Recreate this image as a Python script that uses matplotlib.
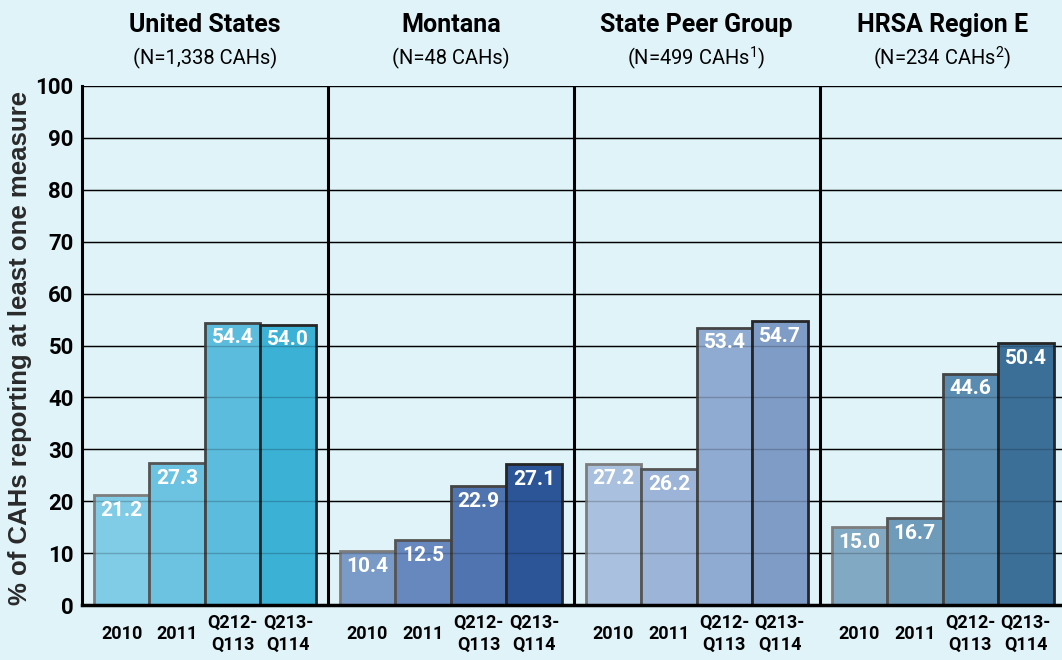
import numpy as np
import matplotlib.pyplot as plt

plt.rcParams['mathtext.fontset'] = 'custom'
plt.rcParams['mathtext.rm'] = 'Roboto'

# --- dados ---
groups = ['United States', 'Montana', 'State Peer Group', 'HRSA Region E']
subtitles = ['(N=1,338 CAHs)', '(N=48 CAHs)', '(N=499 CAHs$^{\\rm 1}$)', '(N=234 CAHs$^{\\rm 2}$)']
periods = ['2010', '2011', 'Q212-\nQ113', 'Q213-\nQ114']

us_vals = [21.2, 27.3, 54.4, 54.0]
mt_vals = [10.4, 12.5, 22.9, 27.1]
peer_vals = [27.2, 26.2, 53.4, 54.7]
hrsa_vals = [15.0, 16.7, 44.6, 50.4]
all_vals = [us_vals, mt_vals, peer_vals, hrsa_vals]

colors = [
    ['#80cbe6', '#6cc3e1', '#5bbcdd', '#3bb1d6'],
    ['#7a9bc8', '#6688bf', '#4f74b0', '#2b5597'],
    ['#a9c1de', '#9cb4d7', '#90abd2', '#7f9cc6'],
    ['#82a9c4', '#6f9bbb', '#5a8bb0', '#3b6f98'],
]
edge_cols = ['#7d7d7d', '#555555', '#444444', '#262626']

bg = '#dff3f9'
cond = ['Roboto', 'DejaVu Sans']

# geometria: largura do painel em unidades de barra
P = 4.43
off = 0.215

fig = plt.figure(figsize=(10.62, 6.6), dpi=100, facecolor=bg)
ax = fig.add_axes([82 / 1062, 55 / 660, 980 / 1062, 519 / 660])
ax.set_facecolor(bg)

# grade atrás das barras
for y in range(10, 101, 10):
    ax.axhline(y, color='black', lw=1, zorder=0)

for g, vals in enumerate(all_vals):
    x = g * P + off + 0.5 + np.arange(4)
    ax.bar(x, vals, width=1.0, color=colors[g], edgecolor=edge_cols,
           linewidth=2, zorder=2)
    for j, (xi, v) in enumerate(zip(x, vals)):
        ax.annotate(f'{v:.1f}', (xi, v), xytext=(0, -4), textcoords='offset points',
                    ha='center', va='top', color='white', fontsize=15,
                    fontweight='bold', family=cond, zorder=4)
        ax.text(xi, -5.6, periods[j], ha='center', va='center', fontsize=13,
                fontweight='bold', family=cond, linespacing=1.3, clip_on=False)
    # títulos dos painéis
    cx = (g + 0.5) * P
    ax.text(cx, 111.8, groups[g], ha='center', va='center', fontsize=18,
            fontweight='bold', family=cond, clip_on=False)
    ax.text(cx, 105.4, subtitles[g], ha='center', va='center', fontsize=14.5,
            family=cond, clip_on=False)
    if g > 0:
        ax.axvline(g * P, color='black', lw=2.2, zorder=3)

# grade por cima das barras, bem suave
for y in range(10, 100, 10):
    ax.axhline(y, color='black', lw=1, alpha=0.2, zorder=3)

ax.set_xlim(0, 980 / 55.5)
ax.set_ylim(0, 100)
ax.set_yticks(range(0, 101, 10))
ax.set_yticklabels([str(t) for t in range(0, 101, 10)], fontsize=16,
                   fontweight='bold', family=cond)
ax.tick_params(axis='y', length=0, pad=6)
ax.set_xticks([])
ax.spines['right'].set_visible(False)
ax.spines['top'].set_visible(False)
ax.spines['left'].set_linewidth(2.2)
ax.spines['bottom'].set_linewidth(2.5)
ax.spines['left'].set_zorder(5)
ax.spines['bottom'].set_zorder(5)

fig.text(20 / 1062, 1 - 348 / 660, '% of CAHs reporting at least one measure',
         rotation=90, ha='center', va='center', fontsize=18.5, fontweight='bold',
         family=['Liberation Sans', 'DejaVu Sans'], color='#2a2a2a')

fig.savefig('out.png', dpi=100, facecolor=bg)
